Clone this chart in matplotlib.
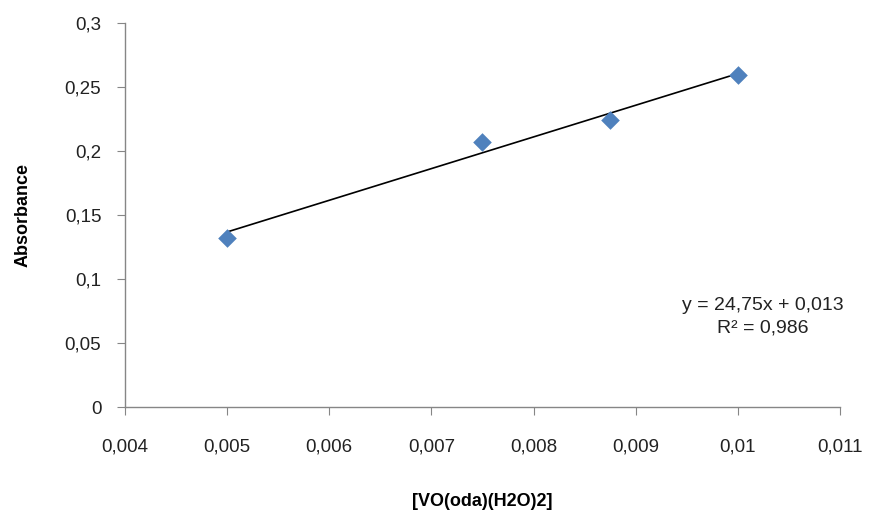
import numpy as np
import matplotlib.pyplot as plt
from matplotlib.ticker import FuncFormatter

# data
conc = [0.005, 0.0075, 0.00875, 0.01]
absorbance = [0.132, 0.207, 0.224, 0.259]
slope, intercept = 24.75, 0.013
eq_text = 'y = 24,75x + 0,013\nR² = 0,986'

x_ticks = [0.004, 0.005, 0.006, 0.007, 0.008, 0.009, 0.010, 0.011]
y_ticks = [0, 0.05, 0.10, 0.15, 0.20, 0.25, 0.30]

plt.rcParams['font.family'] = ['Liberation Sans', 'DejaVu Sans']

fig = plt.figure(figsize=(8.72, 5.11), dpi=100)
ax = fig.add_axes([0.1433, 0.2035, 0.82, 0.7515])

line_x = np.array([conc[0], conc[-1]])
ax.plot(line_x, slope * line_x + intercept, color='black', lw=1.2, zorder=2)
ax.scatter(conc, absorbance, marker='D', s=90, color='#4F81BD', zorder=3, linewidths=0)

ax.set_xlim(0.004, 0.011)
ax.set_ylim(0, 0.3)
ax.set_xticks(x_ticks)
ax.set_yticks(y_ticks)

def comma(v, pos):
    s = f'{v:.3f}'.rstrip('0').rstrip('.')
    return s.replace('.', ',')

ax.xaxis.set_major_formatter(FuncFormatter(comma))
ax.yaxis.set_major_formatter(FuncFormatter(comma))

for side in ['top', 'right']:
    ax.spines[side].set_visible(False)
for side in ['left', 'bottom']:
    ax.spines[side].set_color('#868686')
    ax.spines[side].set_linewidth(1.0)
ax.tick_params(direction='out', length=6, color='#868686', labelsize=13.5, labelcolor='#222222')
ax.tick_params(axis='x', pad=17)
ax.tick_params(axis='y', pad=11)

ax.set_xlabel('[VO(oda)(H2O)2]', fontsize=13, fontweight='bold')
ax.set_ylabel('Absorbance', fontsize=13, fontweight='bold')
ax.xaxis.set_label_coords(0.5, -0.225)
ax.yaxis.set_label_coords(-0.130, 0.5)

ax.text(0.01024, 0.0703, eq_text, ha='center', va='center', fontsize=14,
        color='#222222', linespacing=1.45)

fig.savefig('out.png', dpi=100)
